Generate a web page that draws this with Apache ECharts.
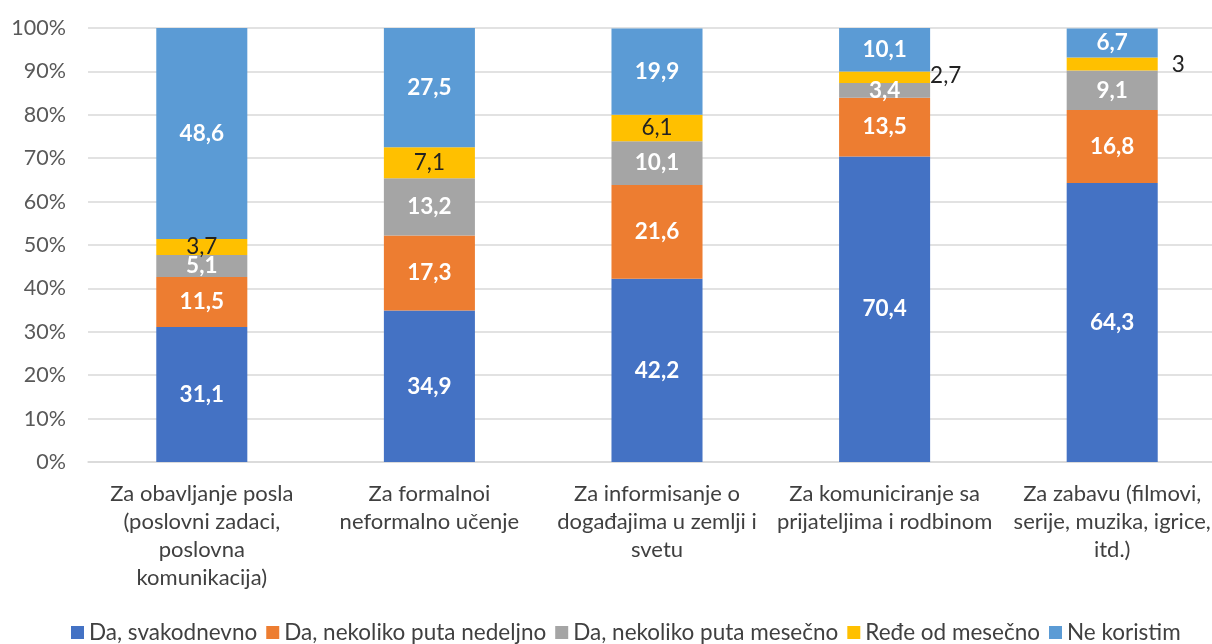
<!DOCTYPE html>
<html>
<head>
<meta charset="utf-8">
<script src="https://cdn.jsdelivr.net/npm/echarts@6/dist/echarts.min.js"></script>
<style>
  html, body { margin: 0; padding: 0; background: #fff; }
  #chart { width: 1212px; height: 644px; }
</style>
</head>
<body>
<div id="chart"></div>
<script>
// kategorije i vrednosti (procenti)
const categories = [
  'Za obavljanje posla\n(poslovni zadaci,\nposlovna\nkomunikacija)',
  'Za formalnoi\nneformalno učenje',
  'Za informisanje o\ndogađajima u zemlji i\nsvetu',
  'Za komuniciranje sa\nprijateljima i rodbinom',
  'Za zabavu (filmovi,\nserije, muzika, igrice,\nitd.)'
];
const seriesNames = ['Da, svakodnevno', 'Da, nekoliko puta nedeljno', 'Da, nekoliko puta mesečno', 'Ređe od mesečno', 'Ne koristim'];
const svakodnevno = [31.1, 34.9, 42.2, 70.4, 64.3];
const nedeljno = [11.5, 17.3, 21.6, 13.5, 16.8];
const mesecno = [5.1, 13.2, 10.1, 3.4, 9.1];
const redje = [3.7, 7.1, 6.1, 2.7, 3];
const neKoristim = [48.6, 27.5, 19.9, 10.1, 6.7];
const yTicks = [0, 10, 20, 30, 40, 50, 60, 70, 80, 90, 100];

const colors = ['#4472C4', '#ED7D31', '#A5A5A5', '#FFC000', '#5B9BD5'];
const font = 'Lato, "Noto Sans", sans-serif';

const fmt = p => String(p.value).replace('.', ',');

function makeSeries(name, data, idx) {
  const s = {
    name: name,
    type: 'bar',
    stack: 'ukupno',
    barWidth: '40%',
    itemStyle: { color: colors[idx] },
    label: {
      show: true,
      position: 'inside',
      formatter: fmt,
      color: '#fff',
      fontWeight: 'bold',
      fontSize: 22.5,
      fontFamily: font
    },
    data: data
  };
  if (idx === 3) {
    // žuti segmenti imaju crne oznake; uski idu desno od stubca
    s.label.color = '#222';
    s.label.fontWeight = 'normal';
    s.data = data.map((v, i) => i >= 3
      ? { value: v, label: { position: 'right', distance: i === 3 ? 0 : 14, offset: [0, i === 3 ? -2 : 1] } }
      : v);
  }
  return s;
}

const chart = echarts.init(document.getElementById('chart'), null, { renderer: 'canvas' });
chart.setOption({
  animation: false,
  color: colors,
  grid: { left: 88, width: 1138, top: 28, bottom: 182, outerBoundsMode: 'none', containLabel: false },
  legend: {
    bottom: -5,
    left: 66,
    icon: 'rect',
    itemWidth: 13,
    itemHeight: 13,
    itemGap: 9,
    textStyle: { fontSize: 22.5, color: '#404040', fontFamily: font },
    data: seriesNames
  },
  xAxis: {
    type: 'category',
    data: categories,
    axisTick: { show: false },
    axisLine: { lineStyle: { color: '#d9d9d9', width: 1.5 } },
    axisLabel: {
      interval: 0,
      margin: 18,
      fontSize: 22,
      lineHeight: 28,
      color: '#404040',
      fontFamily: font
    }
  },
  yAxis: {
    type: 'value',
    min: 0,
    max: 100,
    interval: 10,
    axisLine: { show: false },
    axisTick: { show: false },
    splitLine: { lineStyle: { color: '#d9d9d9', width: 1.5 } },
    axisLabel: {
      margin: 22,
      fontSize: 21.5,
      color: '#595959',
      fontFamily: font,
      formatter: v => yTicks.includes(v) ? v + '%' : ''
    }
  },
  series: [
    makeSeries(seriesNames[0], svakodnevno, 0),
    makeSeries(seriesNames[1], nedeljno, 1),
    makeSeries(seriesNames[2], mesecno, 2),
    makeSeries(seriesNames[3], redje, 3),
    makeSeries(seriesNames[4], neKoristim, 4)
  ]
});
</script>
</body>
</html>
